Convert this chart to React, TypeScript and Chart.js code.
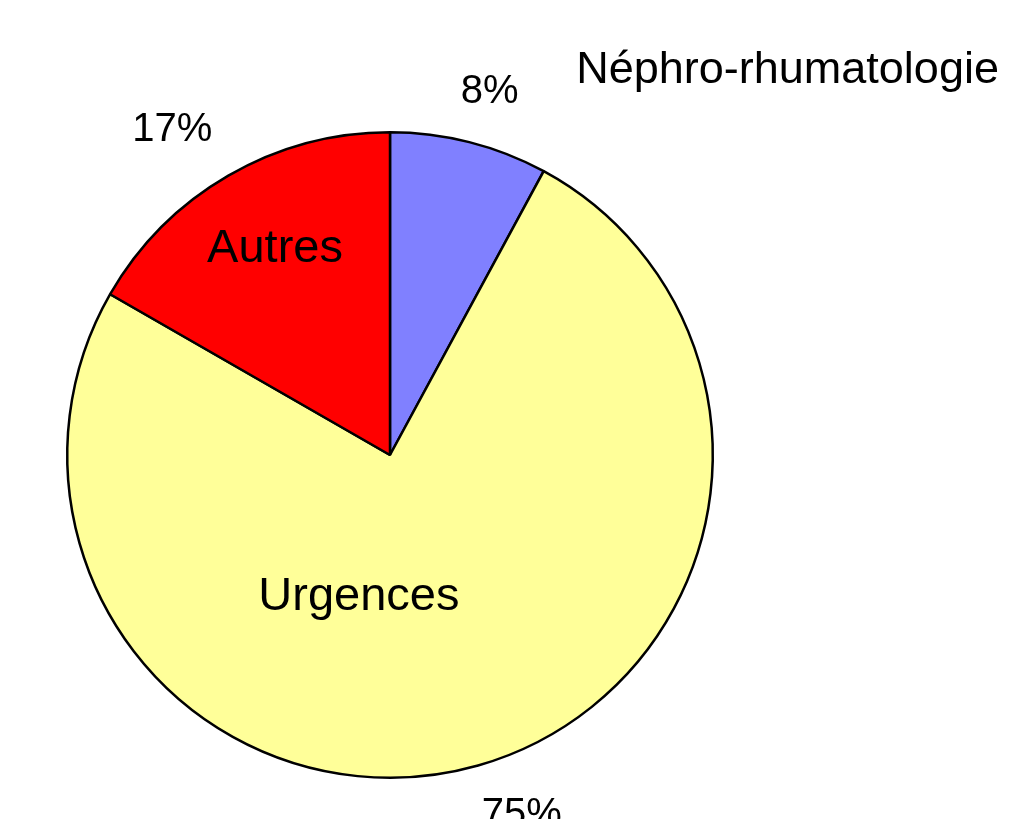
import React, { useEffect, useRef } from "react";
import { Chart, registerables } from "chart.js";

Chart.register(...registerables);

const categories = ["Néphro-rhumatologie", "Urgences", "Autres"];
const values = [7.9, 75.4, 16.7];
const pctLabels = ["8%", "75%", "17%"];
const sliceColors = ["#8080FF", "#FFFF99", "#FF0000"];
// label placement nudges and font sizes (style, not data)
const pctNudge = [[8, -2], [30, 1], [-31, -2]];
const catNudge = [[350, -197], [-84, -44], [-18, -38]];
const catFontSize = [45, 47, 47];

const labelPlugin = {
  id: "sliceLabels",
  afterDatasetsDraw(chart: any) {
    const ctx = chart.ctx;
    const meta = chart.getDatasetMeta(0);
    ctx.save();
    ctx.fillStyle = "#000";
    ctx.textAlign = "center";
    ctx.textBaseline = "middle";
    meta.data.forEach((arc: any, i: number) => {
      const { x, y, startAngle, endAngle, outerRadius } = arc.getProps(
        ["x", "y", "startAngle", "endAngle", "outerRadius"],
        true
      );
      const mid = (startAngle + endAngle) / 2;
      const rp = outerRadius + 50;
      ctx.font = "40px 'Liberation Sans', Arial, sans-serif";
      ctx.fillText(
        pctLabels[i],
        x + Math.cos(mid) * rp + pctNudge[i][0],
        y + Math.sin(mid) * rp + pctNudge[i][1]
      );
      const rc = outerRadius * 0.6;
      ctx.font = catFontSize[i] + "px 'Liberation Sans', Arial, sans-serif";
      ctx.fillText(
        categories[i],
        x + Math.cos(mid) * rc + catNudge[i][0],
        y + Math.sin(mid) * rc + catNudge[i][1]
      );
    });
    ctx.restore();
  },
};

export default function App() {
  const ref = useRef<HTMLCanvasElement>(null);
  useEffect(() => {
    if (!ref.current) return;
    const chart = new Chart(ref.current, {
      type: "pie",
      data: {
        labels: categories,
        datasets: [
          {
            data: values,
            backgroundColor: sliceColors,
            borderColor: "#000000",
            borderWidth: 2.5,
          },
        ],
      },
      options: {
        responsive: false,
        animation: false,
        layout: { padding: { left: 66, right: 315, top: 131, bottom: 40 } },
        plugins: {
          legend: { display: false },
          title: { display: false },
          tooltip: { enabled: false },
        },
      },
      plugins: [labelPlugin],
    });
    return () => chart.destroy();
  }, []);
  return (
    <div style={{ position: "absolute", left: 0, top: 0, width: 1029, height: 819, background: "#fff" }}>
      <canvas ref={ref} width={1029} height={819} />
    </div>
  );
}
